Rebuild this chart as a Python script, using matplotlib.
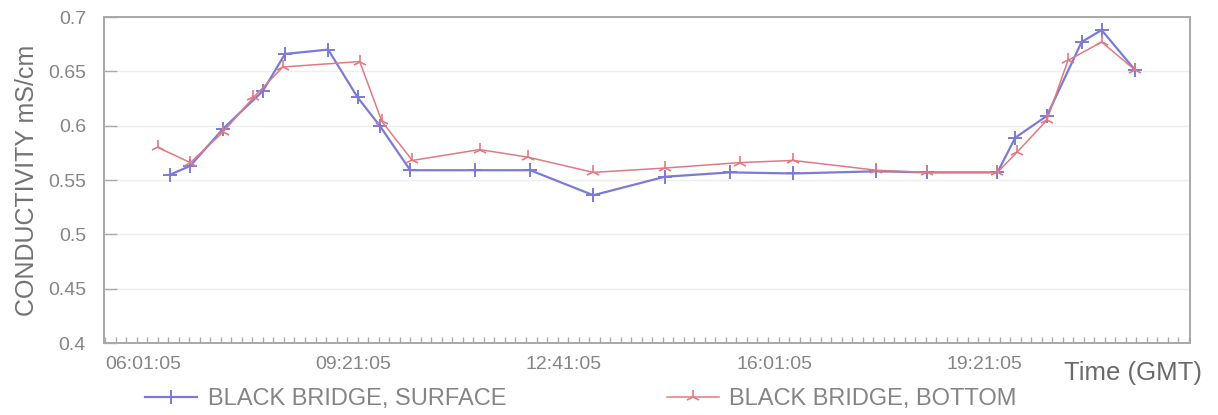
import matplotlib
matplotlib.use("Agg")
import matplotlib.pyplot as plt
from matplotlib.ticker import FixedLocator, MultipleLocator

plt.rcParams['font.family'] = ['Liberation Sans', 'DejaVu Sans']

# clock times (GMT) of each sample and conductivity readings, mS/cm
surface_times = ["07:03", "07:22", "07:53", "08:31", "08:52", "09:33", "10:01", "10:22",
                 "10:51", "11:53", "12:45", "13:45", "14:53", "15:55", "16:55", "18:14",
                 "19:02", "20:09", "20:26", "20:56", "21:29", "21:48", "22:20"]
surface_vals = [0.555, 0.563, 0.597, 0.632, 0.666, 0.670, 0.626, 0.600,
                0.559, 0.559, 0.559, 0.536, 0.553, 0.557, 0.556, 0.558,
                0.557, 0.557, 0.589, 0.609, 0.677, 0.688, 0.651]

bottom_times = ["06:51", "07:22", "07:53", "08:22", "08:50", "10:03", "10:24", "10:53",
                "11:57", "12:43", "13:45", "14:53", "16:04", "16:55", "18:14", "19:02",
                "20:09", "20:28", "20:56", "21:16", "21:48", "22:20"]
bottom_vals = [0.580, 0.566, 0.594, 0.626, 0.654, 0.659, 0.604, 0.568,
               0.578, 0.571, 0.557, 0.561, 0.566, 0.568, 0.559, 0.557,
               0.557, 0.576, 0.605, 0.660, 0.677, 0.651]

tick_labels = ["06:01:05", "09:21:05", "12:41:05", "16:01:05", "19:21:05"]
y_ticks = [0.4, 0.45, 0.5, 0.55, 0.6, 0.65, 0.7]

START = 6 * 60 + 1  # 06:01


def to_min(s):
    h, m = s.split(":")[:2]
    return int(h) * 60 + int(m) - START


xs_surf = [to_min(t) for t in surface_times]
xs_bot = [to_min(t) for t in bottom_times]
tick_pos = [to_min(t) for t in tick_labels]

fig = plt.figure(figsize=(12.18, 4.15), dpi=100)
ax = fig.add_axes([104 / 1218, 1 - 343 / 415, (1190 - 104) / 1218, (343 - 17) / 415])

ax.plot(xs_surf, surface_vals, color='#7b7bd6', lw=1.6, marker='+', ms=10, mew=1.4,
        label='BLACK BRIDGE, SURFACE')
ax.plot(xs_bot, bottom_vals, color='#e07a82', lw=1.1, marker='2', ms=10, mew=1.2,
        label='BLACK BRIDGE, BOTTOM')

ax.set_xlim(-1, 1031)
ax.set_ylim(0.4, 0.7)
ax.set_yticks(y_ticks)
ax.set_yticklabels([f"{v:g}" for v in y_ticks])
ax.xaxis.set_major_locator(FixedLocator(tick_pos))
ax.set_xticklabels(tick_labels, ha='left')
ax.xaxis.set_minor_locator(MultipleLocator(10))

ax.tick_params(axis='y', direction='in', length=9, width=1, color='#aaaaaa',
               labelcolor='#858585', labelsize=14, pad=13)
ax.tick_params(axis='x', which='both', direction='in', length=4, width=1, color='#aaaaaa',
               labelcolor='#858585', labelsize=14, pad=9)

ax.grid(axis='y', color='#eeeeee', lw=1)
for s in ax.spines.values():
    s.set_color('#a8a8a8')
    s.set_linewidth(1.4)

ax.set_ylabel('CONDUCTIVITY mS/cm', fontsize=18, color='#727272', labelpad=6)
fig.text(1064 / 1218, 1 - 373 / 415, 'Time (GMT)', fontsize=18.5, color='#6a6a6a',
         va='center', ha='left')

fig.legend(loc='center left', bbox_to_anchor=(145 / 1218, 1 - 399 / 415), ncol=2,
           frameon=False, fontsize=17, handlelength=2.2, handletextpad=0.45,
           columnspacing=6.8, borderpad=0, borderaxespad=0, labelcolor='#858585')

fig.savefig('out.png', dpi=100)
